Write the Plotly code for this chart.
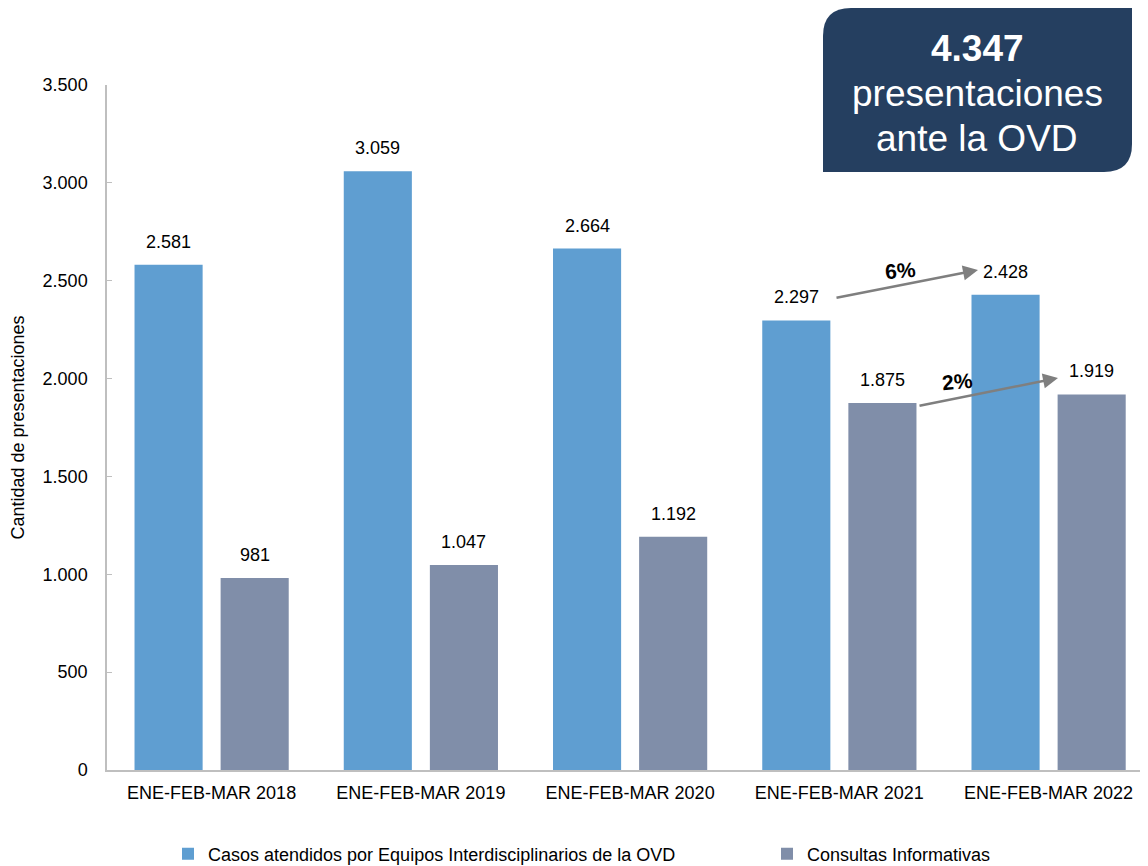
import plotly.graph_objects as go

categories = ["ENE-FEB-MAR 2018", "ENE-FEB-MAR 2019", "ENE-FEB-MAR 2020",
              "ENE-FEB-MAR 2021", "ENE-FEB-MAR 2022"]
casos = [2581, 3059, 2664, 2297, 2428]
consultas = [981, 1047, 1192, 1875, 1919]
series_names = ["Casos atendidos por Equipos Interdisciplinarios de la OVD",
                "Consultas Informativas"]
y_ticks = [0, 500, 1000, 1500, 2000, 2500, 3000, 3500]

# page is offset by the 8px default body margin
OFF = 8
W, H = 1148 - OFF, 866 - OFF
ML, MR, MT, MB = 107 - OFF, 0, 85 - OFF, 96
PW, PH = W - ML - MR, H - MT - MB
X_RANGE = [-0.5, 4.475]


def px(x):  # page pixel -> paper x
    return (x - OFF - ML) / PW


def py(y):  # page pixel -> paper y
    return (H - MB - (y - OFF)) / PH


FONT = "Liberation Sans, Arial, sans-serif"
BLUE = "#5F9ED1"
GRAY = "#808EA9"
BARGAP, GROUPGAP = 0.177, 0.209

fig = go.Figure()
fig.add_trace(go.Bar(x=categories, y=casos, name=series_names[0],
                     marker=dict(color=BLUE, line=dict(width=0)),
                     legend="legend"))
fig.add_trace(go.Bar(x=categories, y=consultas, name=series_names[1],
                     marker=dict(color=GRAY, line=dict(width=0)),
                     legend="legend2"))

# value labels above bars, placed on the data axes
catw = PW / (X_RANGE[1] - X_RANGE[0])
slot = (1 - BARGAP) * catw / 2
annotations = []
for series, shift in ((casos, -slot / 2), (consultas, slot / 2)):
    for c, v in zip(categories, series):
        annotations.append(dict(x=c, y=v, xref="x", yref="y",
                                text=f"{v:,}".replace(",", "."),
                                showarrow=False, xshift=shift, yshift=11,
                                yanchor="bottom", xanchor="center",
                                font=dict(family=FONT, size=18, color="#000000")))

# Rounded box (top-left and bottom-right corners rounded)
x0, x1, y0, y1, r = 823, 1132, 8, 172, 28
path = (f"M {px(x0)} {py(y0 + r)} "
        f"Q {px(x0)} {py(y0)} {px(x0 + r)} {py(y0)} "
        f"L {px(x1)} {py(y0)} "
        f"L {px(x1)} {py(y1 - r)} "
        f"Q {px(x1)} {py(y1)} {px(x1 - r)} {py(y1)} "
        f"L {px(x0)} {py(y1)} Z")
shapes = [dict(type="path", xref="paper", yref="paper", path=path,
               fillcolor="#253F60", line=dict(width=0), layer="above")]


def arrow(tx, ty, hx, hy):
    return dict(x=px(hx), y=py(hy), xref="paper", yref="paper",
                ax=tx - hx, ay=ty - hy, axref="pixel", ayref="pixel",
                showarrow=True, arrowhead=2, arrowsize=1.2, arrowwidth=2.5,
                arrowcolor="#7F7F7F", text="")


def box_text(y, text, size):
    return dict(x=px(977), y=py(y), xref="paper", yref="paper", text=text,
                xanchor="center", yanchor="middle", showarrow=False,
                font=dict(family=FONT, size=size, color="white"))


annotations += [
    box_text(48, "<b>4.347</b>", 37),
    box_text(93, "presentaciones", 37),
    box_text(138, "ante la OVD", 37),
    arrow(835, 298, 978, 270),
    arrow(918, 406, 1058, 378),
    dict(x=px(900), y=py(270), xref="paper", yref="paper", text="<b>6%</b>",
         xanchor="center", yanchor="middle", showarrow=False, textangle=-5,
         font=dict(family=FONT, size=21, color="#000000")),
    dict(x=px(957), y=py(381), xref="paper", yref="paper", text="<b>2%</b>",
         xanchor="center", yanchor="middle", showarrow=False, textangle=-5,
         font=dict(family=FONT, size=21, color="#000000")),
]

legend_common = dict(orientation="h", yanchor="middle", y=py(854),
                     xanchor="left", bgcolor="rgba(0,0,0,0)",
                     font=dict(family=FONT, size=18, color="#000000"),
                     itemclick=False, itemdoubleclick=False, itemwidth=30)

fig.update_layout(
    width=W, height=H,
    margin=dict(l=ML, r=MR, t=MT, b=MB, autoexpand=False),
    paper_bgcolor="white", plot_bgcolor="white",
    font=dict(family=FONT, size=18, color="#000000"),
    separators=",.",
    barmode="group", bargap=BARGAP, bargroupgap=GROUPGAP,
    showlegend=True,
    legend=dict(x=px(168), **legend_common),
    legend2=dict(x=px(767), **legend_common),
    xaxis=dict(range=X_RANGE, showline=True, linecolor="#BFBFBF", linewidth=1.5,
               ticks="", showgrid=False, tickfont=dict(size=18),
               ticklabelstandoff=6),
    yaxis=dict(range=[0, 3500], tickvals=y_ticks, tickformat=",",
               showline=True, linecolor="#BFBFBF", linewidth=1.5,
               ticks="inside", ticklen=5, tickcolor="#BFBFBF",
               showgrid=False, zeroline=False, tickfont=dict(size=18),
               ticklabelstandoff=14,
               title=dict(text="Cantidad de presentaciones",
                          font=dict(size=18), standoff=15)),
    shapes=shapes,
    annotations=annotations,
)

fig.write_html("out.html")
